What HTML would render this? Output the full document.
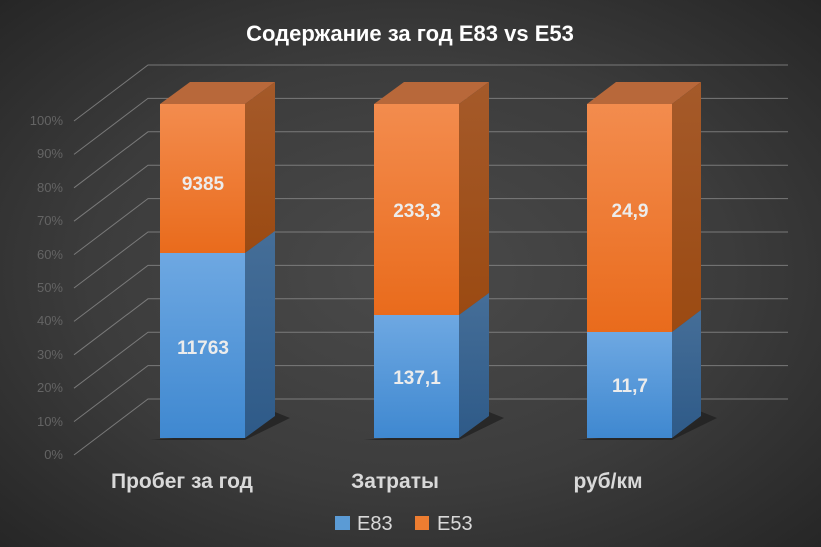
<!DOCTYPE html>
<html><head><meta charset="utf-8"><style>
html,body{margin:0;padding:0;}
body{width:821px;height:547px;overflow:hidden;background:radial-gradient(ellipse at 50% 50%,#4a4a4a 0%,#3c3c3c 55%,#262626 100%);font-family:"Liberation Sans","DejaVu Sans",sans-serif;}
</style></head><body>
<svg width="821" height="547" xmlns="http://www.w3.org/2000/svg" style="position:absolute;left:0;top:0">
<defs>
<linearGradient id="of" x1="0" y1="0" x2="0" y2="1"><stop offset="0" stop-color="#f38c4e"/><stop offset="1" stop-color="#e96b1c"/></linearGradient>
<linearGradient id="bf" x1="0" y1="0" x2="0" y2="1"><stop offset="0" stop-color="#6ea8e2"/><stop offset="1" stop-color="#3f88d0"/></linearGradient>
<linearGradient id="os" x1="0" y1="0" x2="0" y2="1"><stop offset="0" stop-color="#a55a2a"/><stop offset="1" stop-color="#9b4a12"/></linearGradient>
<linearGradient id="bs" x1="0" y1="0" x2="0" y2="1"><stop offset="0" stop-color="#456e98"/><stop offset="1" stop-color="#2e5a88"/></linearGradient>
</defs>
<g stroke="#8a8a8a" stroke-width="1" fill="none" opacity="0.8">
<path d="M74 121L148 65H788M74 154.4L148 98.4H788M74 187.8L148 131.8H788M74 221.2L148 165.2H788M74 254.6L148 198.6H788M74 288L148 232H788M74 321.4L148 265.4H788M74 354.8L148 298.8H788M74 388.2L148 332.2H788M74 421.6L148 365.6H788M74 455L148 399H788"/>
</g>
<g fill="#646464" font-size="13" text-anchor="end">
<text x="63" y="125">100%</text><text x="63" y="158">90%</text><text x="63" y="192">80%</text><text x="63" y="225">70%</text><text x="63" y="259">60%</text><text x="63" y="292">50%</text><text x="63" y="325">40%</text><text x="63" y="359">30%</text><text x="63" y="392">20%</text><text x="63" y="426">10%</text><text x="63" y="459">0%</text>
</g>
<g>
<path d="M150 440L245 440L290 418L270 410L245 432Z" fill="#1e1e1e" opacity="0.7"/>
<path d="M364 440L459 440L504 418L484 410L459 432Z" fill="#1e1e1e" opacity="0.7"/>
<path d="M577 440L672 440L717 418L697 410L672 432Z" fill="#1e1e1e" opacity="0.7"/>
</g>
<g>
<polygon points="160,104 245,104 275,82 190,82" fill="#b8683a"/>
<polygon points="245,104 275,82 275,231 245,253" fill="url(#os)"/>
<polygon points="245,253 275,231 275,416 245,438" fill="url(#bs)"/>
<rect x="160" y="104" width="85" height="149" fill="url(#of)"/>
<rect x="160" y="253" width="85" height="185" fill="url(#bf)"/>
</g>
<g>
<polygon points="374,104 459,104 489,82 404,82" fill="#b8683a"/>
<polygon points="459,104 489,82 489,293 459,315" fill="url(#os)"/>
<polygon points="459,315 489,293 489,416 459,438" fill="url(#bs)"/>
<rect x="374" y="104" width="85" height="211" fill="url(#of)"/>
<rect x="374" y="315" width="85" height="123" fill="url(#bf)"/>
</g>
<g>
<polygon points="587,104 672,104 701,82 616,82" fill="#b8683a"/>
<polygon points="672,104 701,82 701,310 672,332" fill="url(#os)"/>
<polygon points="672,332 701,310 701,416 672,438" fill="url(#bs)"/>
<rect x="587" y="104" width="85" height="228" fill="url(#of)"/>
<rect x="587" y="332" width="85" height="106" fill="url(#bf)"/>
</g>
<g fill="#ececec" font-size="19" font-weight="bold" text-anchor="middle">
<text x="203" y="190">9385</text><text x="203" y="354">11763</text>
<text x="417" y="217">233,3</text><text x="417" y="384">137,1</text>
<text x="630" y="217">24,9</text><text x="630" y="392">11,7</text>
</g>
<g fill="#d9d9d9" font-size="21" font-weight="bold" text-anchor="middle">
<text x="182" y="488">Пробег за год</text><text x="395" y="488">Затраты</text><text x="608" y="488">руб/км</text>
</g>
<text x="410" y="41" fill="#ffffff" font-size="22" font-weight="bold" text-anchor="middle">Содержание за год E83 vs E53</text>
<rect x="335" y="516" width="15" height="14" fill="#5b9bd5"/>
<text x="357" y="530" fill="#d9d9d9" font-size="20">E83</text>
<rect x="415" y="516" width="14" height="14" fill="#ed7d31"/>
<text x="437" y="530" fill="#d9d9d9" font-size="20">E53</text>
</svg>
</body></html>
